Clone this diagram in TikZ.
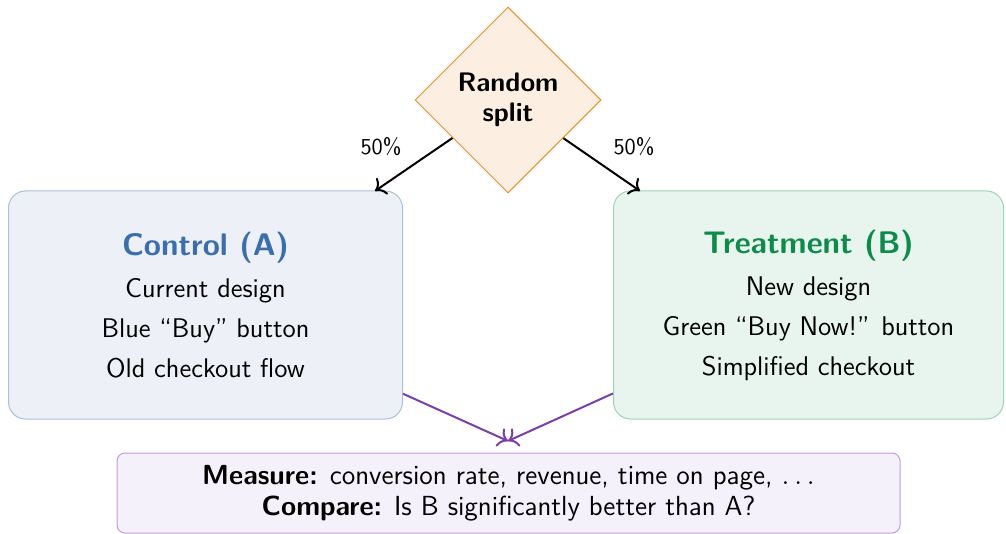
\documentclass[tikz,border=0pt]{standalone}
\usetikzlibrary{shapes.geometric,arrows.meta}
\definecolor{ctrlblue}{HTML}{3B6EAB}
\definecolor{ctrlfill}{HTML}{EDF1F7}
\definecolor{ctrldraw}{HTML}{A9C0DD}
\definecolor{trtgreen}{HTML}{0E8A4A}
\definecolor{trtfill}{HTML}{E8F4EE}
\definecolor{trtdraw}{HTML}{9FD3B5}
\definecolor{splitfill}{HTML}{FCEFE1}
\definecolor{splitdraw}{HTML}{E0922E}
\definecolor{measfill}{HTML}{F5F1FA}
\definecolor{measdraw}{HTML}{C49AD9}
\definecolor{measarrow}{HTML}{7B3FA8}
\newcommand{\bodyfont}{\fontsize{13.5}{16}\selectfont}
\newcommand{\titlefont}{\fontsize{15.6}{18}\selectfont\bfseries}
\tikzset{
  groupbox/.style={rounded corners=8.5pt, line width=0.5pt, minimum height=114pt, align=center, font=\sffamily\bodyfont, inner sep=0pt},
  splitbox/.style={diamond, aspect=1, draw=splitdraw, fill=splitfill, line width=0.5pt, minimum size=93pt, inner sep=0pt, align=center, font=\sffamily\fontsize{13.4}{15}\selectfont\bfseries},
  measbox/.style={rounded corners=4pt, draw=measdraw, fill=measfill, line width=0.5pt, minimum width=391.5pt, minimum height=40pt, align=center, font=\sffamily\fontsize{13.8}{15.5}\selectfont, inner sep=0pt},
  splitarrow/.style={-{To[scale=1.25]}, line width=1pt, black},
  measarrowstyle/.style={-{To[scale=1.25]}, line width=1pt, measarrow},
  pct/.style={font=\sffamily\fontsize{11.4}{13}\selectfont, inner sep=0pt}
}
\begin{document}
\begin{tikzpicture}[x=0.5pt, y=-0.5pt]
\useasboundingbox (0,0) rectangle (1006,534);
\node[splitbox] (split) at (508,100) {Random\\split};
\node[groupbox, minimum width=197pt, draw=ctrldraw, fill=ctrlfill] (ctrl) at (205.5,305)
  {{\titlefont\color{ctrlblue}Control (A)}\\[5pt]Current design\\[4pt]Blue ``Buy'' button\\[4pt]Old checkout flow};
\node[groupbox, minimum width=195pt, draw=trtdraw, fill=trtfill] (trt) at (808.5,305)
  {{\titlefont\color{trtgreen}Treatment (B)}\\[5pt]New design\\[4pt]Green ``Buy Now!'' button\\[4pt]Simplified checkout};
\node[measbox] (meas) at (508.5,493)
  {\textbf{Measure:} conversion rate, revenue, time on page, $\ldots$\\\textbf{Compare:} Is B significantly better than A?};
\coordinate (tA) at (375,191);
\coordinate (tB) at (640,191);
\coordinate (mtip) at (508,441);
\draw[splitarrow] (split) -- (tA);
\draw[splitarrow] (split) -- (tB);
\node[pct] (pA) at (381,147) {50\%};
\node[pct] (pB) at (634,147) {50\%};
\draw[measarrowstyle] (ctrl) -- (mtip);
\draw[measarrowstyle] (trt) -- (mtip);
\end{tikzpicture}
\end{document}
